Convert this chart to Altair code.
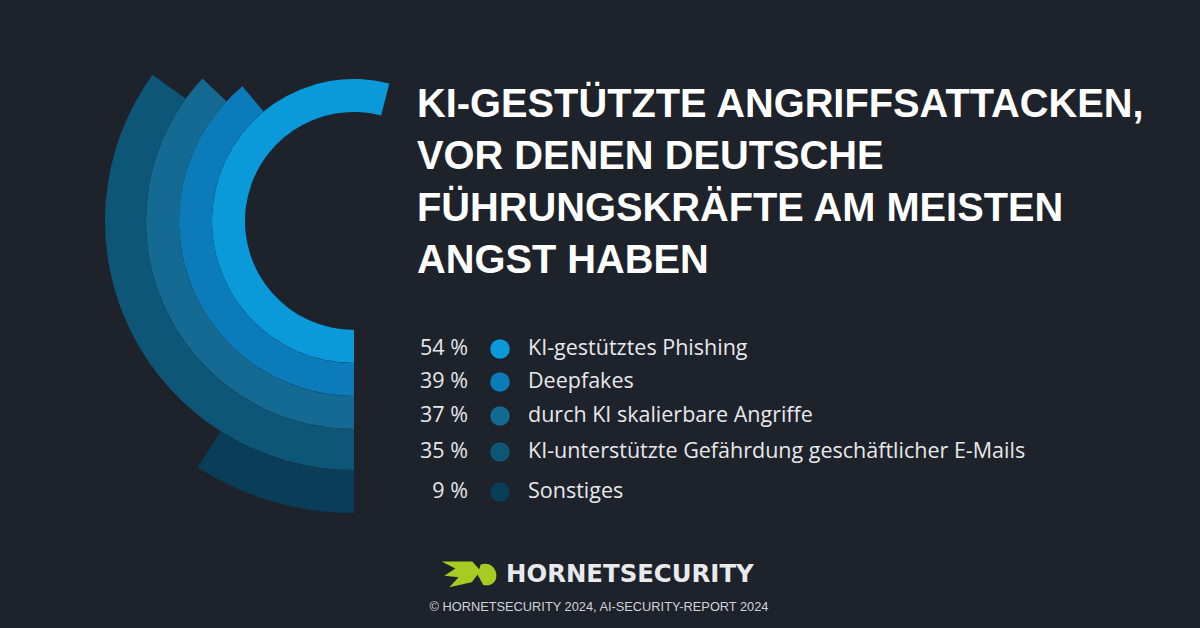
import math
import altair as alt
import pandas as pd

# ---- data ----
categories = [
    "KI-gestütztes Phishing",
    "Deepfakes",
    "durch KI skalierbare Angriffe",
    "KI-unterstützte Gefährdung geschäftlicher E-Mails",
    "Sonstiges",
]
values = [54, 39, 37, 35, 9]
colors = ["#0a9ada", "#0b7cb9", "#156a94", "#0e5677", "#0a3d58"]
title_lines = [
    "KI-GESTÜTZTE ANGRIFFSATTACKEN,",
    "VOR DENEN DEUTSCHE",
    "FÜHRUNGSKRÄFTE AM MEISTEN",
    "ANGST HABEN",
]
brand = "HORNETSECURITY"
source = "© HORNETSECURITY 2024, AI-SECURITY-REPORT 2024"

BG = "#1e222a"

df = pd.DataFrame({
    "cat": categories,
    "value": values,
    "rank": list(range(len(categories))),
})
df["outer"] = df["rank"] + 1
df["start"] = 0
df["pct"] = [f"{v} %" for v in values]

base = alt.Chart(df)

color = alt.Color("cat:N", scale=alt.Scale(domain=categories, range=colors), legend=None)

ring_scale = alt.Scale(type="linear", domain=[0, 1, 2, 3, 4, 5],
                       range=[109, 142, 175, 208, 249, 292], zero=False, nice=False)

arcs = base.mark_arc(stroke=None).encode(
    x=alt.value(354),
    y=alt.value(221),
    theta=alt.Theta("start:Q", stack=False,
                    scale=alt.Scale(domain=[0, 100], range=[math.pi, 3 * math.pi])),
    theta2="value:Q",
    radius=alt.Radius("outer:Q", scale=ring_scale),
    radius2="rank:Q",
    color=color,
)

row_scale = alt.Scale(type="linear", domain=[0, 1, 2, 3, 4],
                      range=[349, 382, 416, 452, 492], zero=False, nice=False)
ypos = alt.Y("rank:Q", scale=row_scale, axis=None)

pct_text = base.mark_text(align="right", baseline="middle", font="Open Sans",
                          fontSize=21.5, color="#e6e8eb").encode(
    x=alt.value(468), y=ypos, text="pct:N")

dots = base.mark_circle(size=380, opacity=1).encode(
    x=alt.value(500), y=ypos, color=color)

labels = base.mark_text(align="left", baseline="middle", font="Open Sans",
                        fontSize=21.5, color="#e6e8eb").encode(
    x=alt.value(528), y=ypos, text="cat:N")

one = alt.Chart(pd.DataFrame({"a": [0]}))

title = one.mark_text(align="left", baseline="alphabetic", font="Liberation Sans",
                      fontWeight="bold", fontSize=39.8, lineHeight=52,
                      color="#ffffff").encode(
    x=alt.value(417), y=alt.value(117), text=alt.value(title_lines))

logo_path = ("M -1 -0.46 L 0.12 -0.46 L 0.42 -0.12 L 0.1 0.3 L -0.72 0.48 "
             "L -0.38 0.12 L -0.9 0.06 L -0.5 -0.2 Z "
             "M 0.42 -0.34 C 0.78 -0.46 1 -0.2 1 0.06 C 1 0.3 0.8 0.46 0.52 0.4 "
             "L 0.32 0.04 Z")
logo = one.mark_point(shape=logo_path, filled=True, color="#a9c923",
                      opacity=1, size=3000).encode(
    x=alt.value(469), y=alt.value(574))

brand_text = one.mark_text(align="left", baseline="middle", font="DejaVu Sans",
                           fontWeight="bold", fontSize=24.4, color="#e8eaed").encode(
    x=alt.value(506), y=alt.value(575), text=alt.value(brand))

source_text = one.mark_text(align="center", baseline="middle", font="Liberation Sans",
                            fontSize=12.8, color="#d0d3d8").encode(
    x=alt.value(599), y=alt.value(607), text=alt.value(source))

chart = alt.layer(arcs, pct_text, dots, labels, title, logo, brand_text, source_text).properties(
    width=1200, height=628, background=BG, padding=0,
    autosize=alt.AutoSizeParams(type="none"),
).configure_view(stroke=None)

chart.save("out.html", embed_options={"renderer": "svg", "actions": False})
